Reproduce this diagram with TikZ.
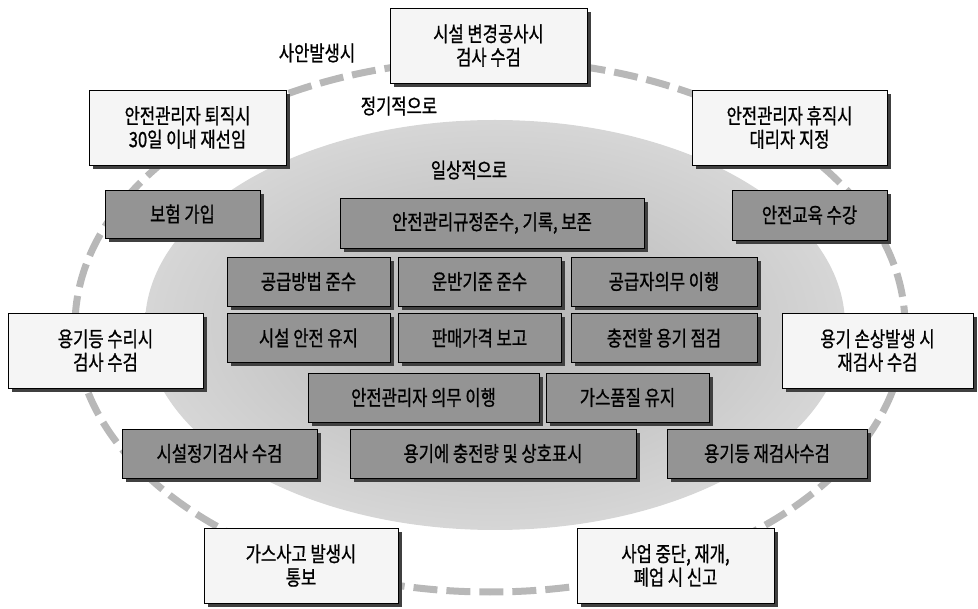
\documentclass[tikz,border=0pt]{standalone}
\usepackage{fontspec}
\newfontfamily\kr[FakeStretch=0.79,FakeBold=0.9]{Noto Sans CJK KR}
\usetikzlibrary{shadows}
\begin{document}
\begin{tikzpicture}[x=1pt,y=-1pt,
  txt/.style={font=\kr\fontsize{21}{23.5}\selectfont, text=black},
  shad/.style={drop shadow={shadow xshift=4pt, shadow yshift=-4pt, fill=black!75, opacity=1}},
  wbox/.style={txt, shad, draw=black, line width=0.7pt, fill=black!4, minimum height=75pt, align=center, inner sep=0pt},
  gbox/.style={txt, shad, draw=black, line width=0.7pt, fill=black!42, minimum height=49pt, inner sep=0pt},
  ring/.style={draw=black!28, line width=7pt, dash pattern=on 24pt off 9pt}]
\useasboundingbox (0,0) rectangle (978,609);
% zones
\shade[inner color=black!30, outer color=black!16] (495,325) ellipse [x radius=350, y radius=205];
\draw[ring] (490,326) ellipse [x radius=415, y radius=266];
% zone labels
\node[txt] (l1) at (317,53) {사안발생시};
\node[txt] (l2) at (399,106) {정기적으로};
\node[txt] (l3) at (469,170) {일상적으로};
% white boxes
\node[wbox, minimum width=197pt] (w1) at (488.5,45.5) {시설 변경공사시\\검사 수검};
\node[wbox, minimum width=197pt] (w2) at (187.5,127.5) {안전관리자 퇴직시\\30일 이내 재선임};
\node[wbox, minimum width=195pt] (w3) at (789.5,127.5) {안전관리자 휴직시\\대리자 지정};
\node[wbox, minimum width=195pt] (w4) at (105.5,350.5) {용기등 수리시\\검사 수검};
\node[wbox, minimum width=191pt] (w5) at (877.5,350.5) {용기 손상발생 시\\재검사 수검};
\node[wbox, minimum width=194pt] (w6) at (301,565.5) {가스사고 발생시\\통보};
\node[wbox, minimum width=197pt] (w7) at (675.5,565.5) {사업 중단, 재개,\\폐업 시 신고};
% gray boxes
\node[gbox, minimum width=155pt, minimum height=48pt] (g1) at (182.5,214) {보험 가입};
\node[gbox, minimum width=304pt, minimum height=50pt] (g2) at (492,223) {안전관리규정준수, 기록, 보존};
\node[gbox, minimum width=155pt, minimum height=50pt] (g3) at (809.5,215) {안전교육 수강};
\node[gbox, minimum width=163pt] (r21) at (308.5,281.5) {공급방법 준수};
\node[gbox, minimum width=163pt] (r22) at (479.5,281.5) {운반기준 준수};
\node[gbox, minimum width=186pt] (r23) at (664,281.5) {공급자의무 이행};
\node[gbox, minimum width=163pt] (r31) at (308.5,338) {시설 안전 유지};
\node[gbox, minimum width=163pt] (r32) at (479.5,338) {판매가격 보고};
\node[gbox, minimum width=186pt] (r33) at (664,338) {충전할 용기 점검};
\node[gbox, minimum width=231pt] (r41) at (423.5,397.5) {안전관리자 의무 이행};
\node[gbox, minimum width=163pt] (r42) at (627.5,397.5) {가스품질 유지};
\node[gbox, minimum width=195pt] (r51) at (219.5,453.5) {시설정기검사 수검};
\node[gbox, minimum width=286pt] (r52) at (493,453.5) {용기에 충전량 및 상호표시};
\node[gbox, minimum width=200pt] (r53) at (767,453.5) {용기등 재검사수검};
\end{tikzpicture}
\end{document}
